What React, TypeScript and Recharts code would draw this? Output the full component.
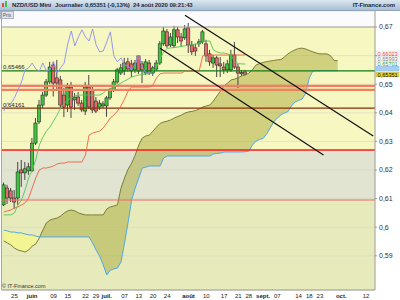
import React from "react";
import {
  ComposedChart,
  Line,
  Area,
  Bar,
  XAxis,
  YAxis,
  CartesianGrid,
  ReferenceLine,
} from "recharts";

// NZD/USD daily, one slot per trading day; slot 68 is 24 Aug 2020,
// the cloud is drawn 26 slots ahead and the chart runs to slot 104
const slots = 105;
const lag = 26;

const opens = [
  0.6078, 0.6137, 0.6127, 0.6102, 0.6102, 0.62, 0.619, 0.6197, 0.6197, 0.6294,
  0.6368, 0.6427, 0.6462, 0.6508, 0.6567, 0.6522, 0.6515, 0.6462, 0.6427, 0.649,
  0.6445, 0.6455, 0.6434, 0.6406, 0.649, 0.648, 0.6441, 0.642, 0.6424, 0.6424,
  0.6452, 0.648, 0.6508, 0.6539, 0.6546, 0.6578, 0.6571, 0.655, 0.6599, 0.6571,
  0.6539, 0.6574, 0.6539, 0.6553, 0.6574, 0.6641, 0.6683, 0.6637, 0.6634, 0.669,
  0.6665, 0.6662, 0.6697, 0.6637, 0.6627, 0.6641, 0.6648, 0.6641, 0.6606, 0.6574,
  0.6592, 0.6571, 0.656, 0.655, 0.655, 0.6602, 0.656, 0.6536, 0.6543,
];
const highs = [
  0.6156, 0.6148, 0.6137, 0.613, 0.6228, 0.6235, 0.6228, 0.6225, 0.6312, 0.6382,
  0.6445, 0.6473, 0.6518, 0.6578, 0.6579, 0.6585, 0.6529, 0.6487, 0.6504, 0.6508,
  0.6469, 0.6473, 0.6445, 0.6508, 0.6532, 0.6494, 0.6455, 0.6445, 0.6441, 0.6459,
  0.6487, 0.6518, 0.6557, 0.6571, 0.6592, 0.6592, 0.6585, 0.6585, 0.6602, 0.6581,
  0.6588, 0.6585, 0.6564, 0.6585, 0.6651, 0.67, 0.6693, 0.6679, 0.6704, 0.67,
  0.6679, 0.6707, 0.6714, 0.6651, 0.6641, 0.6658, 0.669, 0.6655, 0.662, 0.6602,
  0.6599, 0.6595, 0.6578, 0.6585, 0.662, 0.6648, 0.6571, 0.655, 0.655,
];
const lows = [
  0.6074, 0.6081, 0.6088, 0.6064, 0.6078, 0.6141, 0.6165, 0.6183, 0.6193, 0.6287,
  0.6361, 0.6417, 0.6455, 0.6501, 0.6457, 0.648, 0.6417, 0.6385, 0.6403, 0.6382,
  0.641, 0.6424, 0.6403, 0.6392, 0.6413, 0.6399, 0.6399, 0.641, 0.6417, 0.6386,
  0.6445, 0.6473, 0.6501, 0.6532, 0.6532, 0.6543, 0.6525, 0.6539, 0.6536, 0.6504,
  0.6532, 0.6532, 0.6529, 0.6546, 0.6567, 0.6634, 0.6627, 0.663, 0.6627, 0.6644,
  0.663, 0.6655, 0.6609, 0.6602, 0.6599, 0.663, 0.6641, 0.6578, 0.6564, 0.6557,
  0.6525, 0.6525, 0.6536, 0.6539, 0.6543, 0.6553, 0.6487, 0.6529, 0.6532,
];
const closes = [
  0.6148, 0.6102, 0.6102, 0.6088, 0.6193, 0.619, 0.6204, 0.6211, 0.6294, 0.6364,
  0.6427, 0.6462, 0.6508, 0.656, 0.6504, 0.6504, 0.6427, 0.642, 0.649, 0.642,
  0.6455, 0.6434, 0.641, 0.649, 0.642, 0.641, 0.6406, 0.6434, 0.6431, 0.6452,
  0.648, 0.6508, 0.655, 0.6557, 0.6574, 0.6553, 0.6546, 0.6574, 0.6546, 0.655,
  0.6578, 0.6539, 0.6557, 0.6574, 0.6641, 0.6686, 0.6634, 0.6665, 0.669, 0.6665,
  0.6651, 0.6693, 0.6637, 0.6613, 0.6616, 0.6648, 0.6683, 0.6599, 0.6578, 0.6592,
  0.6567, 0.6564, 0.655, 0.6571, 0.6602, 0.656, 0.6539, 0.6541, 0.65351,
];

const tenkan = [
  0.6043, 0.6043, 0.6043, 0.605, 0.6078, 0.6095, 0.613, 0.6172, 0.62, 0.6235,
  0.6287, 0.6315, 0.6336, 0.635, 0.6371, 0.6392, 0.6417, 0.6434, 0.6445, 0.6452,
  0.6459, 0.6462, 0.6462, 0.6462, 0.6462, 0.6462, 0.6462, 0.6462, 0.6469, 0.648,
  0.6483, 0.649, 0.6497, 0.6504, 0.6511, 0.6518, 0.6525, 0.6529, 0.6532, 0.6534,
  0.6536, 0.6537, 0.6546, 0.656, 0.6588, 0.6613, 0.6625, 0.6627, 0.6628, 0.663,
  0.6632, 0.6634, 0.6637, 0.6637, 0.6641, 0.6642, 0.6648, 0.6651, 0.6651, 0.662,
  0.6613, 0.6609, 0.6609, 0.6606, 0.6602, 0.6578, 0.6572, 0.6571, 0.65701,
];
const kijun = [
  0.6053, 0.6057, 0.606, 0.6067, 0.6071, 0.6078, 0.6085, 0.6102, 0.6137, 0.6172,
  0.62, 0.6207, 0.6207, 0.621, 0.6214, 0.6221, 0.6224, 0.6224, 0.6228, 0.6228,
  0.6228, 0.6228, 0.6228, 0.6252, 0.6322, 0.6329, 0.6333, 0.6336, 0.6347, 0.6364,
  0.6382, 0.6392, 0.6406, 0.6424, 0.6448, 0.6476, 0.649, 0.649, 0.649, 0.649,
  0.649, 0.649, 0.6497, 0.6522, 0.6536, 0.6539, 0.6539, 0.6539, 0.6539, 0.6539,
  0.6539, 0.6546, 0.6546, 0.6546, 0.6546, 0.6546, 0.6599, 0.6602, 0.6602, 0.6602,
  0.6602, 0.6602, 0.6602, 0.6602, 0.6602, 0.6602, 0.6602, 0.6602, 0.66023,
];

const spanA = [
  0.5952, 0.5945, 0.5938, 0.5927, 0.592, 0.5917, 0.5913, 0.592, 0.5934, 0.5941,
  0.5962, 0.599, 0.6015, 0.6025, 0.6029, 0.6032, 0.6039, 0.605, 0.6057, 0.606,
  0.6057, 0.605, 0.6046, 0.6043, 0.6043, 0.6043, 0.6043, 0.6043, 0.6043, 0.6064,
  0.6071, 0.6074, 0.6078, 0.6137, 0.6172, 0.6203, 0.6224, 0.6252, 0.6287, 0.6312,
  0.6319, 0.6322, 0.6336, 0.635, 0.6363, 0.6368, 0.6371, 0.6375, 0.6382, 0.6387,
  0.6392, 0.6399, 0.6403, 0.6405, 0.6408, 0.6413, 0.642, 0.6424, 0.6427, 0.6441,
  0.6459, 0.6476, 0.6494, 0.6504, 0.6515, 0.6518, 0.6523, 0.6529, 0.6532, 0.6539,
  0.655, 0.6567, 0.6572, 0.6576, 0.6579, 0.6581, 0.6583, 0.6585, 0.6586, 0.6595,
  0.6606, 0.6614, 0.662, 0.6625, 0.6626, 0.6623, 0.6618, 0.6613, 0.6609, 0.6606,
  0.6606, 0.6606, 0.6599, 0.6583, 0.6582,
];
const spanB = [
  0.599, 0.5987, 0.5983, 0.5983, 0.598, 0.598, 0.5976, 0.5973, 0.5973, 0.5969,
  0.5966, 0.5966, 0.5966, 0.5966, 0.5966, 0.5966, 0.5966, 0.5966, 0.5966, 0.5966,
  0.5966, 0.5966, 0.5966, 0.5966, 0.5966, 0.5945, 0.592, 0.5899, 0.5868, 0.5833,
  0.585, 0.5854, 0.5857, 0.5878, 0.5945, 0.6018, 0.6095, 0.6137, 0.6172, 0.6207,
  0.621, 0.6214, 0.6214, 0.6214, 0.6214, 0.6242, 0.6249, 0.6249, 0.6249, 0.6249,
  0.6249, 0.6249, 0.6249, 0.6249, 0.6249, 0.6249, 0.6249, 0.6249, 0.6249, 0.6256,
  0.6258, 0.6259, 0.6263, 0.6263, 0.6263, 0.6263, 0.6263, 0.6263, 0.6264, 0.6266,
  0.6287, 0.6301, 0.6307, 0.631, 0.6326, 0.6347, 0.6368, 0.6382, 0.6392, 0.6399,
  0.6404, 0.6424, 0.6438, 0.6443, 0.6448, 0.6469, 0.6522, 0.6546, 0.6547, 0.6547,
  0.6547, 0.6547, 0.6547, 0.6547, 0.6547,
];

const priceTicks = [0.59, 0.6, 0.61, 0.62, 0.63, 0.64, 0.65, 0.66, 0.67];
// 0,66 sits under the last-value tags, so its label is not drawn
const hiddenTick = 0.66;
const tickDays = [3, 8, 14, 18, 23, 26, 29, 34, 38, 42, 46, 52, 57, 62, 66, 69, 73, 77, 83, 86, 89, 95, 102];
const tickLabels = ["25", "juin", "09", "15", "22", "29", "juil.", "07", "13", "20", "24", "août", "10", "17", "21", "28", "sept.", "07", "14", "18", "23", "oct.", "12"];
const monthNames = ["juin", "juil.", "août", "sept.", "oct."];

// drawn levels and the falling channel (slot, price)
const supportLevels = [0.65466, 0.6494, 0.648, 0.64161, 0.627, 0.6095];
const channelTop = [[51, 0.67413], [104, 0.63189]];
const channelBottom = [[44, 0.66259], [90, 0.62528]];
const lastValues = [0.66023, 0.65993, 0.65701, 0.6547, 0.65351];

const font = "'Liberation Sans', Arial, sans-serif";

const rows = Array.from({ length: slots }, (_, d) => {
  const a = spanA[d];
  const b = spanB[d];
  const cloud = a !== undefined && b !== undefined;
  return {
    d,
    open: opens[d],
    high: highs[d],
    low: lows[d],
    close: closes[d],
    range: d < closes.length ? [lows[d], highs[d]] : undefined,
    tenkan: tenkan[d],
    kijun: kijun[d],
    chikou: closes[d + lag],
    spanA: a,
    spanB: b,
    bull: cloud ? [b, Math.max(a, b)] : undefined,
    bear: cloud ? [a, Math.max(a, b)] : undefined,
  };
});

const fmt = (v: number) =>
  Math.abs(v - hiddenTick) < 1e-9 ? "" : v.toFixed(2).replace(/0$/, "").replace(".", ",");

function Candle(props: any) {
  const { x, y, width, height, payload } = props;
  if (!payload || payload.open === undefined || !isFinite(y) || !isFinite(height)) return <g />;
  const { open, close, high, low } = payload;
  const k = height / (high - low || 1e-9);
  const cx = x + width / 2;
  const yo = y + (high - open) * k;
  const yc = y + (high - close) * k;
  const up = close >= open;
  return (
    <g>
      <line x1={cx} x2={cx} y1={y} y2={y + height} stroke="#333" strokeWidth={0.9} />
      <rect
        x={cx - 1.6}
        y={Math.min(yo, yc)}
        width={3.2}
        height={Math.max(Math.abs(yo - yc), 1)}
        fill={up ? "#3ec43e" : "#e56a6a"}
        stroke="#2b2b2b"
        strokeWidth={0.6}
      />
    </g>
  );
}

function DayTick(props: any) {
  const { x, y, payload } = props;
  const label = tickLabels[tickDays.indexOf(payload.value)];
  const bold = monthNames.includes(label);
  return (
    <text x={x} y={y + 8} textAnchor="middle" fontSize={6} fontFamily={font} fontWeight={bold ? "bold" : "normal"} fill="#222">
      {label}
    </text>
  );
}

function LevelLabel(props: any) {
  const { viewBox, text } = props;
  return (
    <text x={viewBox.x + 1} y={viewBox.y - 1.5} fontSize={6} fontFamily={font} fill="#222">
      {text}
    </text>
  );
}

function PriceTag(props: any) {
  const { viewBox, text, color, bg, border, dy } = props;
  const x = viewBox.x + viewBox.width + 1;
  const y = viewBox.y + dy;
  return (
    <g>
      <rect x={x} y={y - 2.4} width={23} height={4.8} fill={bg} stroke={border} strokeWidth={0.4} />
      <text x={x + 1.5} y={y + 2} fontSize={5.6} fontFamily={font} fill={color}>
        {text}
      </text>
    </g>
  );
}

const tagStyles = [
  { text: "0,66023", color: "#e23b3b", bg: "#ffffff", border: "#c8c8c8", dy: -1.4 },
  { text: "0,65993", color: "#7a7a7a", bg: "#ffffff", border: "#c8c8c8", dy: 3.1 },
  { text: "0,65701", color: "#2f9a2f", bg: "#ffffff", border: "#c8c8c8", dy: -0.4 },
  { text: "", color: "#333", bg: "#a6cdf2", border: "#7fb0e0", dy: -2.1 },
  { text: "0,65351", color: "#111", bg: "#f3d41c", border: "#8fa8c8", dy: 0.4 },
];

const levelStyles = [
  { stroke: "#127a12", width: 1.2, text: "0,65466" },
  { stroke: "#f2805e", width: 2.4, text: "" },
  { stroke: "#f2805e", width: 2.4, text: "" },
  { stroke: "#8b2c06", width: 1.2, text: "0,64161" },
  { stroke: "#ff1a1a", width: 1.5, text: "" },
  { stroke: "#f06a6a", width: 1, text: "" },
];

export default function App() {
  return (
    <div style={{ position: "absolute", left: 0, top: 0, width: 400, height: 300, background: "#fff", overflow: "hidden", fontFamily: font }}>
      <div
        style={{
          position: "absolute",
          left: 2,
          top: 11,
          width: 373,
          height: 279,
          background:
            "linear-gradient(to bottom, #fbfbfd 0px, #fbfbfd 16px, #f7f7c2 16px, #f7f7c2 139px, #e0e4d1 139px, #e0e4d1 189px, #e7ebbb 189px, #e7ebbb 279px)",
        }}
      />
      <div style={{ position: "absolute", left: 0, top: 0 }}>
        <ComposedChart width={400} height={300} data={rows} margin={{ top: 11, right: 0, bottom: 0, left: 2 }}>
          <CartesianGrid vertical={false} stroke="#d6d7c3" strokeWidth={0.6} />
          <XAxis
            dataKey="d"
            type="category"
            ticks={tickDays}
            interval={0}
            tick={<DayTick />}
            tickLine={false}
            tickSize={0}
            tickMargin={0}
            height={10}
            axisLine={{ stroke: "#9a9a9a" }}
          />
          <YAxis
            orientation="right"
            domain={[0.57804, 0.67559]}
            allowDataOverflow
            ticks={priceTicks}
            tickFormatter={fmt}
            width={25}
            tickSize={2}
            tickMargin={2}
            tick={{ fontSize: 7, fill: "#333", fontFamily: font }}
            axisLine={{ stroke: "#9a9a9a" }}
            tickLine={{ stroke: "#9a9a9a" }}
          />
          <ReferenceLine y={0.67} stroke="#a3a3a3" strokeWidth={1} />
          <Area dataKey="bear" type="linear" stroke="none" fill="#ffff70" fillOpacity={0.5} dot={false} activeDot={false} isAnimationActive={false} />
          <Area dataKey="bull" type="linear" stroke="none" fill="#a9a93c" fillOpacity={0.5} dot={false} activeDot={false} isAnimationActive={false} />
          <Line dataKey="spanA" type="linear" stroke="#7d7d38" strokeWidth={1} dot={false} activeDot={false} isAnimationActive={false} />
          <Line dataKey="spanB" type="linear" stroke="#4fa9e2" strokeWidth={1} dot={false} activeDot={false} isAnimationActive={false} />
          {supportLevels.map((v, i) => (
            <ReferenceLine
              key={"lv" + i}
              y={v}
              stroke={levelStyles[i].stroke}
              strokeWidth={levelStyles[i].width}
              label={levelStyles[i].text ? <LevelLabel text={levelStyles[i].text} /> : undefined}
            />
          ))}
          <Line dataKey="chikou" type="linear" stroke="#8d8df2" strokeWidth={0.9} dot={false} activeDot={false} isAnimationActive={false} />
          <Line dataKey="kijun" type="linear" stroke="#f2603f" strokeWidth={0.9} dot={false} activeDot={false} isAnimationActive={false} />
          <Line dataKey="tenkan" type="linear" stroke="#55c455" strokeWidth={0.9} dot={false} activeDot={false} isAnimationActive={false} />
          <Bar dataKey="range" barSize={3} shape={<Candle />} isAnimationActive={false} />
          {[channelTop, channelBottom].map((seg, i) => (
            <ReferenceLine
              key={"ch" + i}
              segment={[
                { x: seg[0][0], y: seg[0][1] },
                { x: seg[1][0], y: seg[1][1] },
              ]}
              stroke="#111"
              strokeWidth={1.2}
            />
          ))}
          {lastValues.map((v, i) => (
            <ReferenceLine key={"tag" + i} y={v} stroke="none" label={<PriceTag {...tagStyles[i]} />} />
          ))}
        </ComposedChart>
      </div>
      {/* header bar */}
      <div
        style={{
          position: "absolute",
          left: 0,
          top: 0,
          width: 400,
          height: 10,
          background: "linear-gradient(to bottom, #dbe6f0, #a9bfd3)",
          borderBottom: "1px solid #8ea4b8",
          fontSize: 6,
          fontWeight: "bold",
          letterSpacing: -0.1,
          color: "#1b2b45",
          lineHeight: "10px",
          whiteSpace: "nowrap",
        }}
      >
        <div style={{ position: "absolute", left: 2, top: 3, width: 2, height: 4, background: "#e04848" }} />
        <div style={{ position: "absolute", left: 5, top: 1, width: 2, height: 6, background: "#3cc43c" }} />
        <span style={{ position: "absolute", left: 12 }}>NZD/USD Mini</span>
        <span style={{ position: "absolute", left: 55 }}>Journalier</span>
        <span style={{ position: "absolute", left: 85 }}>0,65351 (-0,13%)</span>
        <span style={{ position: "absolute", left: 133 }}>24 août 2020 09:21:43</span>
        <span style={{ position: "absolute", right: 5 }}>IT-Finance.com</span>
      </div>
      <div
        style={{
          position: "absolute",
          left: 0,
          top: 11,
          width: 12,
          height: 6,
          background: "#dfe4ee",
          border: "1px solid #aab3c4",
          fontSize: 5,
          lineHeight: "6px",
          color: "#555",
          textAlign: "center",
        }}
      >
        Prix
      </div>
      <div style={{ position: "absolute", left: 1, top: 11, width: 1, height: 279, background: "#a8a8a8" }} />
      <div style={{ position: "absolute", left: 2, top: 283, fontSize: 5.5, color: "#333", lineHeight: "6px" }}>© IT-Finance.com</div>
    </div>
  );
}
